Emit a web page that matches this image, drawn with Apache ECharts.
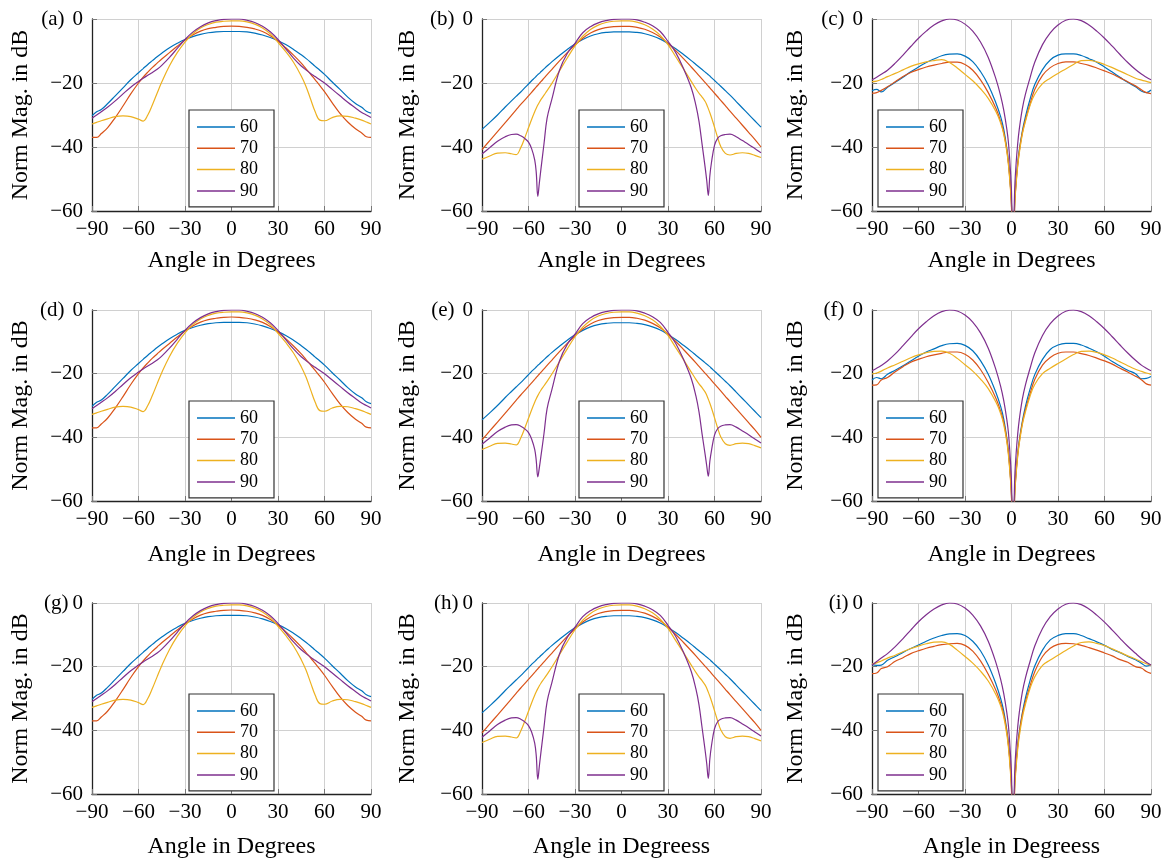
<!DOCTYPE html>
<html><head><meta charset="utf-8">
<script src="https://cdn.jsdelivr.net/npm/echarts@6/dist/echarts.min.js"></script>
<style>html,body{margin:0;padding:0;background:#fff}#c{width:1168px;height:860px}</style>
</head><body><div id="c"></div>
<script>
// ---------- data ----------
const SERIES_NAMES = ['60', '70', '80', '90'];
const COLORS = ['#0072BD', '#D95319', '#EDB120', '#7E2F8E'];
const PANEL_LABELS = ['(a)', '(b)', '(c)', '(d)', '(e)', '(f)', '(g)', '(h)', '(i)'];
const X_TITLES = ['Angle in Degrees', 'Angle in Degrees', 'Angle in Degrees',
                  'Angle in Degrees', 'Angle in Degrees', 'Angle in Degrees',
                  'Angle in Degrees', 'Angle in Degreess', 'Angle in Degreess'];
const Y_TITLE = 'Norm Mag. in dB';
const X_MIN = -90, X_MAX = 90, X_STEP = 30;
const Y_MIN = -60, Y_MAX = 0, Y_STEP = 20;

// column 1 panels (a), (d), (g)
const ANG_A = [-90,-87,-84,-80,-75,-70,-65,-60,-57,-54,-51,-48,-45,-40,-35,-30,-25,-20,-15,-10,-5,
  0, 5,10,15,20,25,30,35,40,45,48,51,54,57,60,65,70,75,80,84,87,90];
const A60 = [-30.3,-29.0,-28.3,-26.5,-24.0,-21.5,-19.0,-16.8,-15.5,-14.2,-13.0,-11.8,-10.7,-9.0,-7.6,-6.4,-5.5,-4.8,-4.3,-4.0,-3.9,
  -3.9, -3.9,-4.0,-4.4,-5.0,-5.8,-6.8,-8.0,-9.5,-11.2,-12.3,-13.5,-14.8,-16.0,-17.3,-19.7,-22.0,-24.4,-26.4,-27.6,-28.8,-29.4];
const A70 = [-37.0,-37.0,-35.8,-34.0,-30.8,-27.2,-23.4,-20.0,-18.2,-16.6,-15.1,-13.8,-12.5,-10.5,-8.5,-6.6,-5.0,-3.8,-3.0,-2.6,-2.3,
  -2.2, -2.3,-2.6,-3.1,-3.9,-5.2,-6.9,-9.0,-11.3,-13.8,-15.5,-17.2,-19.0,-20.8,-22.7,-26.2,-29.5,-32.2,-34.3,-35.6,-36.8,-37.0];
const A80 = [-32.8,-32.3,-31.8,-31.2,-30.5,-30.3,-30.5,-31.3,-31.9,-30.0,-26.8,-23.2,-19.7,-14.6,-10.5,-7.2,-4.6,-2.8,-1.7,-1.0,-0.7,
  -0.6, -0.6,-0.9,-1.6,-2.8,-4.6,-7.3,-10.2,-13.5,-17.8,-21.0,-25.0,-29.0,-31.6,-31.8,-30.8,-30.3,-30.4,-31.0,-31.6,-32.2,-32.8];
const A90 = [-31.0,-30.0,-29.0,-27.6,-25.6,-23.4,-21.3,-19.5,-18.5,-17.6,-16.7,-15.7,-14.5,-12.0,-9.2,-6.4,-4.1,-2.4,-1.2,-0.5,-0.1,
  0.0, 0.0,-0.4,-1.1,-2.3,-4.0,-6.4,-9.3,-12.2,-14.7,-15.9,-17.0,-18.0,-19.0,-20.0,-22.0,-24.0,-26.0,-27.8,-29.2,-30.0,-30.8];

// column 2 panels (b), (e), (h)
const ANG_B = [-90,-85,-80,-75,-71,-68,-65,-62,-60,-58,-56,-55,-54,-53,-52,-50,-48,-45,-40,-35,-30,-25,-20,-15,-10,-5,
  0, 5,10,15,20,25,30,35,40,45,48,50,52,54,55,56,57,58,60,62,64,67,70,74,78,82,86,90];
const B60 = [-34.5,-32.3,-30.0,-27.5,-25.6,-24.2,-22.8,-21.3,-20.3,-19.3,-18.4,-17.9,-17.4,-17.0,-16.5,-15.6,-14.7,-13.4,-11.4,-9.5,-7.8,-6.4,-5.3,-4.6,-4.2,-4.0,
  -4.0, -4.0,-4.2,-4.6,-5.3,-6.3,-7.7,-9.3,-11.1,-13.0,-14.2,-15.0,-15.8,-16.6,-17.0,-17.4,-17.8,-18.3,-19.2,-20.1,-21.0,-22.4,-23.8,-25.8,-27.8,-29.8,-31.8,-33.8];
const B70 = [-40.8,-38.0,-35.2,-32.4,-30.1,-28.4,-26.7,-25.1,-24.0,-22.9,-21.8,-21.2,-20.7,-20.1,-19.6,-18.5,-17.4,-15.8,-13.1,-10.5,-8.1,-6.0,-4.4,-3.3,-2.7,-2.4,
  -2.3, -2.3,-2.6,-3.2,-4.2,-5.6,-7.6,-9.9,-12.4,-15.0,-16.6,-17.7,-18.8,-19.9,-20.4,-21.0,-21.5,-22.1,-23.2,-24.3,-25.4,-27.1,-28.8,-31.0,-33.2,-35.4,-37.6,-40.0];
const B80 = [-43.8,-42.8,-41.9,-41.8,-42.1,-42.4,-40.2,-36.6,-34.0,-31.4,-29.0,-27.9,-26.9,-26.0,-25.2,-23.8,-22.4,-20.2,-16.2,-12.2,-8.4,-5.4,-3.3,-1.9,-1.1,-0.7,
  -0.6, -0.6,-1.0,-1.8,-3.1,-5.1,-8.0,-11.8,-15.6,-19.5,-21.8,-23.2,-24.4,-25.8,-26.8,-28.0,-29.3,-30.7,-33.8,-37.0,-39.8,-42.0,-42.5,-42.0,-41.8,-42.0,-42.6,-43.3];
const B90 = [-42.2,-40.2,-38.2,-36.8,-36.1,-36.0,-36.5,-37.5,-38.5,-40.5,-44.0,-48.0,-55.4,-51.2,-47.0,-39.0,-31.0,-25.2,-16.0,-10.8,-7.6,-4.3,-2.4,-1.2,-0.5,-0.1,
  0.0, 0.0,-0.3,-1.0,-2.1,-3.9,-7.0,-10.5,-15.5,-21.5,-27.0,-32.0,-39.2,-46.5,-50.5,-55.1,-49.0,-45.0,-39.5,-37.3,-36.5,-36.1,-36.0,-36.8,-38.0,-39.2,-40.5,-41.8];
const E90 = [-42.2,-40.2,-38.2,-36.8,-36.1,-36.0,-36.5,-37.5,-38.5,-40.5,-43.8,-47.3,-52.4,-49.5,-46.0,-38.8,-31.0,-25.2,-16.0,-10.8,-7.6,-4.3,-2.4,-1.2,-0.5,-0.1,
  0.0, 0.0,-0.3,-1.0,-2.1,-3.9,-7.0,-10.5,-15.5,-21.5,-27.0,-32.0,-39.0,-45.5,-49.0,-52.2,-47.5,-44.3,-39.3,-37.3,-36.5,-36.1,-36.0,-36.8,-38.0,-39.2,-40.5,-41.8];

// column 3 panels (c), (f), (i)
const ANG_C = [-90,-87,-84,-80,-75,-70,-65,-60,-55,-50,-45,-40,-35,-30,-25,-20,-15,-10,-7,-5,-3,-2,-1,0,
  1, 2,3,4,5,7,9,12,15,20,25,30,35,40,45,50,55,60,65,70,75,80,84,87,90];
const C60 = [-22.4,-22.0,-22.8,-21.3,-19.8,-18.2,-16.5,-15.0,-13.6,-12.5,-11.5,-11.0,-10.9,-11.6,-13.3,-16.4,-20.6,-26.3,-30.5,-34.5,-40.5,-44.5,-50.0,-58.0,
  -85.0, -58.0,-50.5,-45.0,-41.0,-35.0,-30.5,-25.0,-20.5,-15.8,-12.8,-11.3,-10.9,-10.9,-11.4,-12.4,-13.5,-15.0,-16.6,-18.2,-19.8,-21.2,-22.6,-23.0,-22.2];
const C70 = [-23.2,-23.0,-22.3,-21.2,-19.6,-18.0,-16.7,-15.8,-15.0,-14.4,-13.9,-13.5,-13.5,-14.2,-16.0,-19.0,-23.0,-28.0,-32.0,-35.5,-41.0,-45.0,-50.5,-58.5,
  -85.0, -58.5,-51.0,-45.5,-41.5,-35.5,-31.5,-26.5,-22.0,-17.6,-15.2,-13.9,-13.4,-13.4,-13.9,-14.5,-15.3,-16.2,-17.2,-18.4,-19.6,-20.9,-22.2,-23.0,-23.3];
const C80 = [-19.6,-19.4,-18.9,-18.0,-17.0,-15.9,-14.8,-14.0,-13.4,-13.0,-12.7,-13.6,-15.3,-17.3,-19.3,-21.8,-24.8,-29.0,-32.5,-36.0,-41.5,-45.5,-51.0,-59.0,
  -85.0, -59.0,-51.5,-46.0,-42.0,-36.0,-32.0,-27.0,-23.5,-20.2,-18.5,-17.0,-15.6,-14.2,-13.0,-12.9,-13.4,-14.2,-15.2,-16.3,-17.4,-18.5,-19.1,-19.5,-19.9];
const C90 = [-19.0,-18.2,-17.3,-16.0,-13.8,-11.3,-8.6,-6.0,-3.8,-1.9,-0.6,0.0,-0.3,-1.6,-3.8,-7.2,-12.0,-18.8,-24.0,-28.5,-34.5,-38.5,-45.0,-54.0,
  -80.0, -54.0,-45.0,-39.0,-34.5,-28.0,-23.5,-18.3,-13.5,-8.0,-4.3,-1.9,-0.4,0.0,-0.5,-1.9,-3.8,-6.0,-8.5,-11.1,-13.6,-15.8,-17.3,-18.2,-19.0];
const F60 = [-22.0,-21.2,-21.6,-20.2,-18.9,-17.5,-16.0,-14.5,-13.2,-12.2,-11.2,-10.6,-10.5,-11.1,-12.8,-15.9,-20.2,-26.0,-30.3,-34.3,-40.3,-44.3,-50.0,-58.0,
  -85.0, -58.0,-50.5,-45.0,-41.0,-35.0,-30.3,-24.8,-20.3,-15.5,-12.4,-11.0,-10.5,-10.5,-11.0,-12.0,-13.1,-14.5,-16.2,-17.6,-18.9,-20.0,-21.6,-21.5,-20.9];
const F70 = [-23.6,-23.5,-22.0,-21.2,-19.4,-17.8,-16.4,-15.5,-14.7,-14.1,-13.6,-13.2,-13.2,-13.9,-15.7,-18.7,-22.8,-27.8,-31.8,-35.3,-40.8,-44.8,-50.5,-58.5,
  -85.0, -58.5,-51.0,-45.5,-41.5,-35.5,-31.3,-26.3,-21.8,-17.3,-14.9,-13.6,-13.2,-13.2,-13.7,-14.3,-15.1,-16.0,-17.0,-18.3,-19.5,-20.8,-22.0,-23.2,-23.6];
const F80 = [-20.1,-19.8,-19.2,-18.2,-17.2,-16.1,-15.0,-14.1,-13.4,-13.0,-12.9,-13.6,-15.2,-17.2,-19.2,-21.7,-24.7,-29.0,-32.5,-36.0,-41.5,-45.5,-51.0,-59.0,
  -85.0, -59.0,-51.5,-46.0,-42.0,-36.0,-32.0,-27.0,-23.4,-20.0,-18.3,-16.8,-15.4,-14.0,-13.0,-12.9,-13.3,-14.1,-15.1,-16.3,-17.5,-18.6,-19.3,-19.8,-20.2];
const F90 = [-19.1,-18.3,-17.4,-16.0,-13.8,-11.2,-8.5,-5.9,-3.7,-1.8,-0.5,0.0,-0.3,-1.6,-3.8,-7.2,-12.0,-18.8,-24.0,-28.5,-34.5,-38.5,-45.0,-54.0,
  -80.0, -54.0,-45.0,-39.0,-34.5,-28.0,-23.5,-18.3,-13.5,-8.0,-4.3,-1.9,-0.4,0.0,-0.5,-1.8,-3.7,-5.9,-8.4,-11.0,-13.5,-15.8,-17.4,-18.3,-19.1];
const I60 = [-19.3,-19.6,-19.5,-18.0,-16.8,-15.5,-14.3,-13.2,-12.0,-11.0,-10.2,-9.7,-9.6,-10.2,-12.0,-15.0,-19.5,-25.5,-30.0,-34.0,-40.0,-44.0,-49.5,-57.5,
  -85.0, -57.5,-50.0,-44.5,-40.5,-34.5,-29.8,-24.3,-19.8,-14.8,-11.6,-10.2,-9.6,-9.6,-10.2,-11.2,-12.2,-13.3,-14.6,-15.6,-16.8,-17.8,-19.0,-19.8,-19.4];
const I70 = [-22.2,-22.0,-20.6,-20.0,-18.3,-17.2,-15.9,-15.0,-14.2,-13.6,-13.1,-12.8,-12.7,-13.3,-15.1,-18.2,-22.4,-27.5,-31.5,-35.0,-40.5,-44.5,-50.0,-58.0,
  -85.0, -58.0,-50.5,-45.0,-41.0,-35.0,-31.0,-26.0,-21.6,-16.8,-14.2,-13.0,-12.7,-12.8,-13.3,-14.0,-14.8,-15.7,-16.6,-17.8,-18.6,-20.0,-20.5,-21.5,-22.1];
const I80 = [-19.2,-18.8,-18.2,-17.3,-16.4,-15.3,-14.3,-13.5,-12.8,-12.3,-12.2,-13.0,-14.8,-16.8,-18.9,-21.4,-24.5,-28.8,-32.3,-35.8,-41.3,-45.3,-51.0,-59.0,
  -85.0, -59.0,-51.5,-46.0,-42.0,-36.0,-31.8,-26.8,-23.2,-19.6,-17.9,-16.4,-14.9,-13.5,-12.4,-12.2,-12.7,-13.4,-14.4,-15.5,-16.6,-17.6,-18.5,-19.1,-19.5];
const I90 = [-19.5,-18.4,-17.3,-15.9,-13.7,-11.2,-8.5,-5.9,-3.7,-1.9,-0.6,0.0,-0.3,-1.6,-3.8,-7.2,-12.0,-18.8,-24.0,-28.5,-34.5,-38.5,-45.0,-54.0,
  -80.0, -54.0,-45.0,-39.0,-34.5,-28.0,-23.5,-18.3,-13.5,-8.0,-4.3,-1.9,-0.4,0.0,-0.5,-1.9,-3.8,-6.0,-8.5,-11.1,-13.6,-15.8,-17.5,-18.6,-19.5];

const PANEL_DATA = [
  [ANG_A, [A60, A70, A80, A90]], [ANG_B, [B60, B70, B80, B90]], [ANG_C, [C60, C70, C80, C90]],
  [ANG_A, [A60, A70, A80, A90]], [ANG_B, [B60, B70, B80, E90]], [ANG_C, [F60, F70, F80, F90]],
  [ANG_A, [A60, A70, A80, A90]], [ANG_B, [B60, B70, B80, B90]], [ANG_C, [I60, I70, I80, I90]]
];

// ---------- layout ----------
const FONT = "'Liberation Serif','Times New Roman',serif";
const COL_LEFT = [92, 482, 872];
const PLOT_W = 279;
const ROW_TOP = [19, 310, 603];
const ROW_H = [192, 191, 191];
const X_NAME_GAP = [37.5, 41.5, 41];
const Y_NAME_GAP = [59.5, 62.5, 64.5];
const LEGEND_DX = [97, 97, 6];
const LABEL_PAD = [8, 8, 4];

PANEL_DATA.forEach(([ang, ss], i) => ss.forEach((s, k) => {
  if (s.length !== ang.length) throw new Error('length mismatch panel ' + i + ' series ' + k + ': ' + s.length + ' vs ' + ang.length);
}));

const fmt = v => (v < 0 ? '\u2212' + Math.abs(v) : String(v));

const grid = [], xAxis = [], yAxis = [], legend = [], series = [];
for (let i = 0; i < 9; i++) {
  const r = Math.floor(i / 3), c = i % 3;
  grid.push({ left: COL_LEFT[c], top: ROW_TOP[r], width: PLOT_W, height: ROW_H[r], containLabel: false });
  xAxis.push({
    type: 'value', gridIndex: i, min: X_MIN, max: X_MAX, interval: X_STEP,
    axisLine: { show: true, onZero: false, lineStyle: { color: '#222', width: 1.3 } },
    axisTick: { show: true, inside: true, length: 5, lineStyle: { color: '#777' } },
    axisLabel: { formatter: fmt, fontSize: 21, fontFamily: FONT, color: '#000', margin: 8 },
    splitLine: { show: true, lineStyle: { color: '#d0d0d0', width: 1 } },
    name: X_TITLES[i], nameLocation: 'middle', nameGap: X_NAME_GAP[r],
    nameTextStyle: { fontSize: 24, fontFamily: FONT, color: '#000' }
  });
  const lab = PANEL_LABELS[i];
  yAxis.push({
    type: 'value', gridIndex: i, min: Y_MIN, max: Y_MAX, interval: Y_STEP,
    axisLine: { show: true, onZero: false, lineStyle: { color: '#222', width: 1.3 } },
    axisTick: { show: true, inside: true, length: 5, lineStyle: { color: '#777' } },
    axisLabel: {
      formatter: v => (v === 0 ? '{p|' + lab + '}0' : fmt(v)),
      fontSize: 21, fontFamily: FONT, color: '#000', margin: 9,
      rich: { p: { fontSize: 21, fontFamily: FONT, color: '#000', padding: [0, LABEL_PAD[r], 0, 0] } }
    },
    splitLine: { show: true, lineStyle: { color: '#d0d0d0', width: 1 } },
    name: Y_TITLE, nameLocation: 'middle', nameGap: Y_NAME_GAP[c],
    nameTextStyle: { fontSize: 24, fontFamily: FONT, color: '#000' }
  });
  legend.push({
    data: SERIES_NAMES, orient: 'vertical',
    left: COL_LEFT[c] + LEGEND_DX[c], top: ROW_TOP[r] + 91,
    padding: [8, 16, 7, 8], itemGap: 3.3, itemWidth: 38, itemHeight: 1.5,
    icon: 'rect',
    backgroundColor: '#fff', borderColor: '#333', borderWidth: 1.2, borderRadius: 0,
    selectedMode: false,
    textStyle: { fontSize: 18, fontFamily: FONT, color: '#000', lineHeight: 18 }
  });
  const [ang, ss] = PANEL_DATA[i];
  ss.forEach((vals, k) => {
    series.push({
      type: 'line', name: SERIES_NAMES[k], xAxisIndex: i, yAxisIndex: i,
      data: ang.map((a, j) => [a, vals[j]]),
      symbol: 'none', showSymbol: false, smooth: 0.4, clip: true,
      lineStyle: { color: COLORS[k], width: 1.2 }, itemStyle: { color: COLORS[k] },
      emphasis: { disabled: true }
    });
  });
}

const chart = echarts.init(document.getElementById('c'), null, { renderer: 'canvas' });
chart.setOption({
  backgroundColor: '#fff', animation: false, color: COLORS,
  grid, xAxis, yAxis, legend, series
});
</script></body></html>
